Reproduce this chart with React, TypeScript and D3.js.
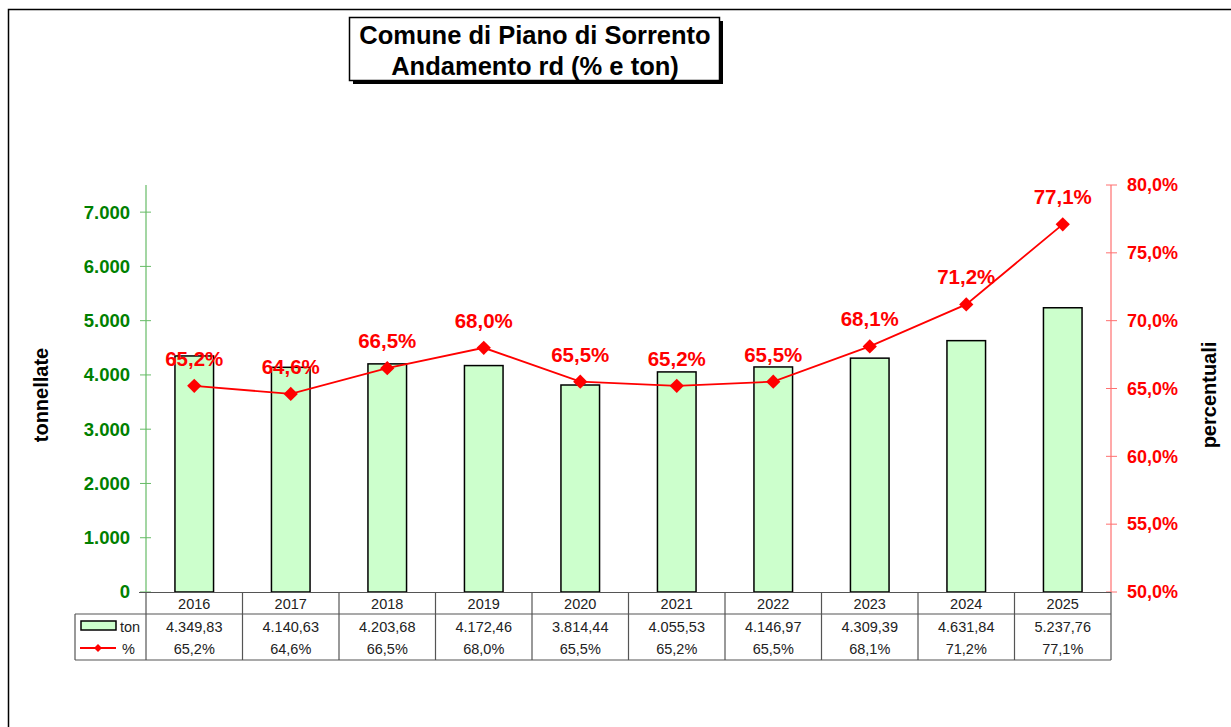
import React from "react";
import * as d3 from "d3";

const years = ["2016", "2017", "2018", "2019", "2020", "2021", "2022", "2023", "2024", "2025"];
const tonValues = [4349.83, 4140.63, 4203.68, 4172.46, 3814.44, 4055.53, 4146.97, 4309.39, 4631.84, 5237.76];
const pctValues = [65.2, 64.6, 66.5, 68.0, 65.5, 65.2, 65.5, 68.1, 71.2, 77.1];
const tonTicks = [0, 1000, 2000, 3000, 4000, 5000, 6000, 7000];
const pctTicks = [50, 55, 60, 65, 70, 75, 80];

const W = 1231, H = 727;
const left = 146, right = 1111, top = 185, bottom = 592;
const FONT = "Arial, 'Liberation Sans', sans-serif";

const itNum = (v: number, dec: number) => {
  const s = v.toFixed(dec);
  const [i, d] = s.split(".");
  const iw = i.replace(/\B(?=(\d{3})+(?!\d))/g, ".");
  return d !== undefined ? iw + "," + d : iw;
};

export default function App() {
  const x = d3.scaleBand<string>().domain(years).range([left, right]).paddingInner(0.6).paddingOuter(0.3);
  const xc = d3.scaleBand<string>().domain(years).range([left, right]);
  const y = d3.scaleLinear().domain([0, 7500]).range([bottom, top]);
  const yp = d3.scaleLinear().domain([50, 80]).range([bottom, top]);
  const line = d3.line<number>().x((_, i) => (xc(years[i]) as number) + xc.bandwidth() / 2).y((d) => yp(d));
  const diamond = d3.symbol().type(d3.symbolDiamond2).size(130)() as string;
  const cx = (i: number) => (xc(years[i]) as number) + xc.bandwidth() / 2;
  const tableLeft = 75, row1 = 614, tBottom = 660;

  return (
    <svg width={W} height={H} style={{ position: "absolute", left: 0, top: 0, fontFamily: FONT }}>
      <rect x={0} y={0} width={W} height={H} fill="#fff" />
      {/* outer frame */}
      <path d={`M8.5,${H} V9.5 H${W}`} fill="none" stroke="#000" strokeWidth={1.5} />

      {/* title */}
      <rect x={353} y={21} width={370} height={63} fill="#000" />
      <rect x={349.5} y={17.5} width={370} height={63} fill="#fff" stroke="#000" strokeWidth={1.5} />
      <text x={535} y={44} textAnchor="middle" fontSize={25.5} fontWeight="bold">Comune di Piano di Sorrento</text>
      <text x={535} y={75} textAnchor="middle" fontSize={25.5} fontWeight="bold">Andamento rd (% e ton)</text>

      {/* bars */}
      {tonValues.map((v, i) => (
        <rect key={i} x={x(years[i])} y={y(v)} width={x.bandwidth()} height={bottom - y(v)}
          fill="#ccffcc" stroke="#000" strokeWidth={1.5} />
      ))}

      {/* left axis */}
      <line x1={left} x2={left} y1={top} y2={bottom} stroke="#66bb66" strokeWidth={1.2} />
      {tonTicks.map((t) => (
        <g key={t}>
          <line x1={left - 6} x2={left + 5} y1={y(t)} y2={y(t)} stroke="#66bb66" strokeWidth={1} />
          <text x={130} y={y(t)} dy="0.35em" textAnchor="end" fontSize={18.5} fontWeight="bold" fill="#008000">{itNum(t, 0)}</text>
        </g>
      ))}
      <text transform={`translate(48,395) rotate(-90)`} textAnchor="middle" fontSize={20} fontWeight="bold">tonnellate</text>

      {/* right axis */}
      <line x1={right} x2={right} y1={top} y2={bottom} stroke="#ff7070" strokeWidth={1.2} />
      {pctTicks.map((t) => (
        <g key={t}>
          <line x1={right - 5} x2={right + 6} y1={yp(t)} y2={yp(t)} stroke="#ff7070" strokeWidth={1} />
          <text x={1127} y={yp(t)} dy="0.35em" textAnchor="start" fontSize={18} fontWeight="bold" fill="#ff0000">{itNum(t, 1)}%</text>
        </g>
      ))}
      <text transform={`translate(1216,395) rotate(-90)`} textAnchor="middle" fontSize={20} fontWeight="bold">percentuali</text>

      {/* line */}
      <path d={line(pctValues) as string} fill="none" stroke="#ff0000" strokeWidth={1.8} />
      {pctValues.map((v, i) => (
        <g key={i}>
          <path d={diamond} transform={`translate(${cx(i)},${yp(v)})`} fill="#ff0000" />
          <text x={cx(i)} y={yp(v) - 20} textAnchor="middle" fontSize={20.5} fontWeight="bold" fill="#ff0000">{itNum(v, 1)}%</text>
        </g>
      ))}

      {/* table */}
      <g stroke="#555" strokeWidth={1.2} fill="none">
        <line x1={left - 7} x2={right} y1={bottom + 0.5} y2={bottom + 0.5} />
        <line x1={tableLeft} x2={right} y1={row1} y2={row1} />
        <line x1={tableLeft} x2={right} y1={tBottom} y2={tBottom} />
        <line x1={tableLeft} x2={tableLeft} y1={row1} y2={tBottom} />
        {years.map((yr) => (
          <line key={yr} x1={xc(yr)} x2={xc(yr)} y1={bottom} y2={tBottom} />
        ))}
        <line x1={right} x2={right} y1={bottom} y2={tBottom} />
      </g>
      {years.map((yr, i) => (
        <g key={yr} fontSize={14.5} fill="#222" textAnchor="middle">
          <text x={cx(i)} y={609}>{yr}</text>
          <text x={cx(i)} y={632}>{itNum(tonValues[i], 2)}</text>
          <text x={cx(i)} y={654}>{itNum(pctValues[i], 1)}%</text>
        </g>
      ))}
      {/* legend keys */}
      <rect x={81} y={621} width={35} height={9} fill="#ccffcc" stroke="#000" strokeWidth={1.5} />
      <text x={120} y={632} fontSize={14.5} fill="#222">ton</text>
      <line x1={80} x2={116} y1={648} y2={648} stroke="#ff0000" strokeWidth={1.8} />
      <path d={d3.symbol().type(d3.symbolDiamond2).size(40)() as string} transform="translate(98,648)" fill="#ff0000" />
      <text x={122} y={654} fontSize={14.5} fill="#222">%</text>
    </svg>
  );
}
